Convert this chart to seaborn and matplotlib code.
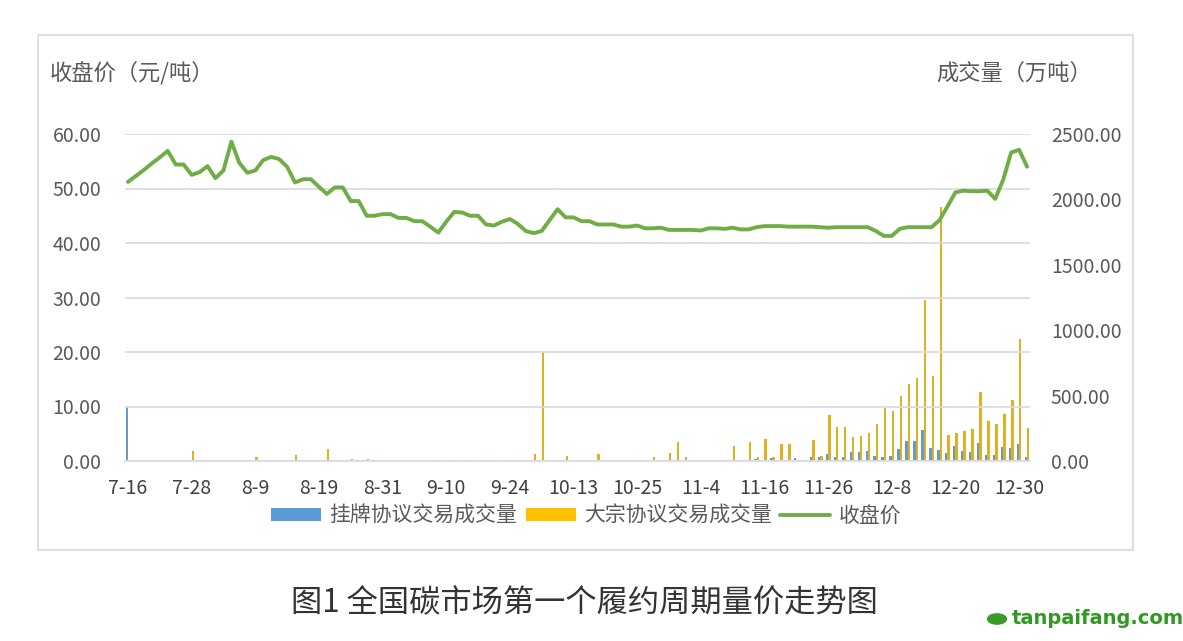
import numpy as np
import pandas as pd
import matplotlib.pyplot as plt
import seaborn as sns
from matplotlib.patches import Patch, Rectangle, Circle
from matplotlib.lines import Line2D

# trading days of the first compliance period (weekends and holidays excluded)
HOLIDAYS = ["2021-09-20", "2021-09-21", "2021-10-01", "2021-10-04",
            "2021-10-05", "2021-10-06", "2021-10-07"]
days = pd.bdate_range("2021-07-16", "2021-12-31", freq="C", holidays=HOLIDAYS)
date_labels = [f"{d.month}-{d.day}" for d in days]

tick_labels = ["7-16", "7-28", "8-9", "8-19", "8-31", "9-10", "9-24", "10-13",
               "10-25", "11-4", "11-16", "11-26", "12-8", "12-20", "12-30"]

# closing price, yuan / t
close_price = [
    51.2, 52.3, 53.4, 54.6, 55.7, 56.9, 54.4, 54.4, 52.5, 53.0,
    54.1, 51.9, 53.3, 58.6, 54.7, 52.9, 53.3, 55.2, 55.8, 55.4,
    54.0, 51.1, 51.7, 51.7, 50.3, 49.0, 50.2, 50.2, 47.7, 47.7,
    45.0, 45.0, 45.3, 45.3, 44.6, 44.6, 44.0, 44.0, 43.0, 41.9,
    43.9, 45.7, 45.6, 45.0, 45.0, 43.4, 43.2, 43.9, 44.4, 43.5,
    42.2, 41.8, 42.2, 44.2, 46.2, 44.7, 44.7, 44.0, 44.0, 43.4,
    43.4, 43.4, 43.0, 43.0, 43.2, 42.7, 42.7, 42.8, 42.4, 42.4,
    42.4, 42.4, 42.3, 42.7, 42.7, 42.6, 42.8, 42.5, 42.5, 42.9,
    43.1, 43.1, 43.1, 43.0, 43.0, 43.0, 43.0, 42.9, 42.8, 42.9,
    42.9, 42.9, 42.9, 42.9, 42.2, 41.3, 41.3, 42.6, 42.9, 42.9,
    42.9, 42.9, 44.2, 46.7, 49.3, 49.6, 49.5, 49.5, 49.6, 48.1,
    51.6, 56.6, 57.1, 54.0,
]

# listed agreement trading volume, 10k t
listed_vol = [
    410, 10, 9, 8, 10, 9, 8, 9, 8, 10,
    9, 8, 10, 9, 8, 9, 10, 8, 9, 8,
    9, 10, 8, 9, 8, 9, 8, 10, 9, 0,
    8, 0, 0, 0, 0, 0, 0, 0, 0, 8,
    0, 8, 0, 8, 0, 8, 8, 0, 8, 9,
    8, 8, 9, 9, 9, 8, 9, 8, 8, 8,
    9, 8, 9, 8, 8, 9, 8, 9, 10, 10,
    9, 8, 9, 8, 9, 10, 9, 10, 9, 15,
    10, 20, 10, 10, 20, 10, 28, 28, 51, 33,
    33, 66, 66, 76, 41, 33, 41, 89, 155, 155,
    237, 97, 84, 59, 117, 76, 66, 135, 46, 46,
    107, 97, 130, 33,
]

# block trading volume, 10k t
block_vol = [
    0, 0, 0, 0, 0, 0, 0, 0, 79, 0,
    0, 0, 0, 0, 0, 0, 28, 0, 0, 0,
    0, 46, 0, 0, 0, 89, 0, 0, 18, 0,
    18, 0, 0, 0, 0, 0, 0, 0, 0, 0,
    0, 0, 0, 0, 0, 0, 0, 0, 0, 0,
    0, 52, 832, 0, 0, 35, 0, 0, 0, 52,
    8, 0, 6, 0, 0, 0, 27, 0, 60, 143,
    27, 0, 0, 0, 0, 0, 117, 0, 143, 27,
    167, 28, 128, 128, 3, 3, 157, 42, 352, 258,
    263, 186, 191, 216, 283, 408, 385, 497, 586, 637,
    1231, 652, 1944, 199, 216, 229, 245, 525, 306, 280,
    362, 469, 930, 250,
]

LEFT_TICKS = [0, 10, 20, 30, 40, 50, 60]
RIGHT_TICKS = [0, 500, 1000, 1500, 2000, 2500]

BLUE = "#5b9bd5"
YELLOW = "#ffc000"
GREEN = "#70ad47"
TEXT = "#595959"
GRID = "#d9d9e6"

sns.set_style("white")
plt.rcParams["font.family"] = ["Noto Sans CJK SC", "DejaVu Sans"]

vol_df = pd.DataFrame({
    "date": date_labels * 2,
    "kind": ["挂牌协议交易成交量"] * len(date_labels) + ["大宗协议交易成交量"] * len(date_labels),
    "vol": listed_vol + block_vol,
})
price_df = pd.DataFrame({"pos": np.arange(len(date_labels)), "price": close_price})

fig = plt.figure(figsize=(11.83, 6.41), dpi=100)
fig.patch.set_facecolor("white")

# outer frame of the chart
fig.patches.append(Rectangle((38 / 1183, 1 - 550 / 641), 1095 / 1183, 515 / 641,
                             transform=fig.transFigure, fill=False,
                             edgecolor="#dcdfe6", linewidth=1.5))

ax_price = fig.add_axes([125 / 1183, 1 - 461 / 641, 905 / 1183, 327 / 641])
ax_vol = ax_price.twinx()

sns.barplot(data=vol_df, x="date", y="vol", hue="kind", order=date_labels,
            hue_order=["挂牌协议交易成交量", "大宗协议交易成交量"],
            palette=[BLUE, YELLOW], width=0.6, linewidth=0, legend=False,
            errorbar=None, ax=ax_vol)

sns.lineplot(data=price_df, x="pos", y="price", color=GREEN, linewidth=2.8,
             ax=ax_price)

ax_price.set_zorder(ax_vol.get_zorder() + 1)
ax_price.patch.set_visible(False)

ax_price.set_ylim(0, 60)
ax_vol.set_ylim(0, 2500)
ax_price.set_xlim(-0.37, len(date_labels) - 1 + 0.37)

ax_price.set_yticks(LEFT_TICKS)
ax_price.set_yticklabels([f"{v:.2f}" for v in LEFT_TICKS])
ax_vol.set_yticks(RIGHT_TICKS)
ax_vol.set_yticklabels([f"{v:.2f}" for v in RIGHT_TICKS])

tick_pos = [date_labels.index(t) for t in tick_labels]
ax_price.set_xticks(tick_pos)
ax_price.set_xticklabels(tick_labels)
ax_vol.set_xticks(tick_pos)
ax_vol.set_xticklabels(tick_labels)

ax_price.grid(axis="y", color=GRID, linewidth=1.2)
ax_price.grid(axis="x", visible=False)
ax_vol.grid(False)
for a in (ax_price, ax_vol):
    for s in a.spines.values():
        s.set_visible(False)
ax_price.spines["bottom"].set_visible(True)
ax_price.spines["bottom"].set_color(GRID)
ax_price.spines["bottom"].set_linewidth(1.2)

ax_price.tick_params(axis="y", length=0, pad=17, labelsize=14, labelcolor=TEXT)
ax_vol.tick_params(axis="y", length=0, pad=15, labelsize=14, labelcolor=TEXT)
ax_price.tick_params(axis="x", length=0, pad=12, labelsize=14, labelcolor="#404040")
ax_price.set_xlabel("")
ax_price.set_ylabel("")
ax_vol.set_xlabel("")
ax_vol.set_ylabel("")

fig.text(50 / 1183, 1 - 73 / 641, "收盘价（元/吨）", fontsize=16, color=TEXT,
         ha="left", va="center")
fig.text(1092 / 1183, 1 - 73 / 641, "成交量（万吨）", fontsize=16, color=TEXT,
         ha="right", va="center")

handles = [
    Patch(facecolor=BLUE, edgecolor="none"),
    Patch(facecolor=YELLOW, edgecolor="none"),
    Line2D([0], [0], color=GREEN, linewidth=2.8),
]
fig.legend(handles, ["挂牌协议交易成交量", "大宗协议交易成交量", "收盘价"],
           loc="center", bbox_to_anchor=(586 / 1183, 1 - 516 / 641), ncol=3,
           frameon=False, fontsize=15, labelcolor=TEXT, handlelength=2.4,
           handleheight=0.6, handletextpad=0.4, columnspacing=0.4)

fig.text(584 / 1183, 1 - 603 / 641, "图1 全国碳市场第一个履约周期量价走势图",
         fontsize=22.5, color="#333333", ha="center", va="center")

fig.patches.append(Circle((997 / 1183, 1 - 619 / 641), 0.008,
                          transform=fig.transFigure, color="#3a9a2a"))
fig.text(1012 / 1183, 1 - 619 / 641, "tanpaifang.com", fontsize=14,
         fontweight="bold", color="#2f9a1f", ha="left", va="center",
         family=["DejaVu Sans"])

fig.savefig("out.png", dpi=100)
